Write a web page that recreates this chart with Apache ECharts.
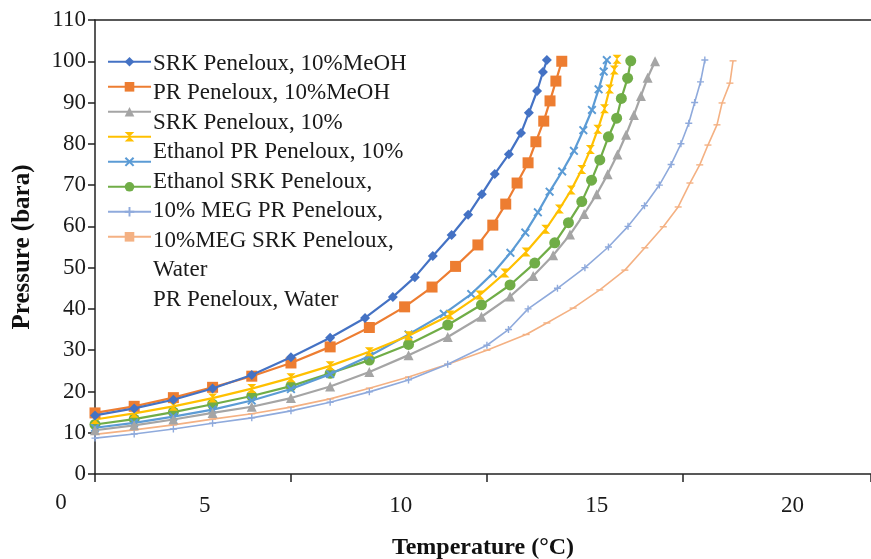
<!DOCTYPE html>
<html><head><meta charset="utf-8">
<script src="https://cdn.jsdelivr.net/npm/echarts@6/dist/echarts.min.js"></script>
<style>html,body{margin:0;padding:0;background:#fff}#c{width:871px;height:559px}</style>
</head><body><div id="c"></div>
<script>
// ---- data (temperature in deg C along the plotted axis, pressure in bara) ----
const seriesNames = ['SRK Peneloux, 10%MeOH','PR Peneloux, 10%MeOH','SRK Peneloux, 10% Ethanol','PR Peneloux, 10% Ethanol','SRK Peneloux, 10% MEG','PR Peneloux, 10% MEG','SRK Peneloux, Water','PR Peneloux, Water'];
const legendLines = ['SRK Peneloux, 10%MeOH','PR Peneloux, 10%MeOH','SRK Peneloux, 10%','Ethanol PR Peneloux, 10%','Ethanol SRK Peneloux,','10% MEG PR Peneloux,','10%MEG SRK Peneloux,','Water\nPR Peneloux, Water'];
const xTickLabels = [5,10,15,20];
const xOriginLabel = '0';

const srkMeohT = [0,1,2,3,4,5,6,6.89,7.6,8.16,8.62,9.1,9.52,9.87,10.2,10.56,10.87,11.07,11.28,11.43,11.53];
const srkMeohP = [14.2,15.9,18.0,20.7,24.0,28.3,33.0,37.8,42.9,47.7,52.8,57.9,62.8,67.8,72.7,77.5,82.6,87.5,92.8,97.4,100.3];
const prMeohT = [0,1,2,3,4,5,6,7,7.9,8.6,9.2,9.77,10.15,10.48,10.77,11.05,11.25,11.45,11.61,11.76,11.91];
const prMeohP = [14.8,16.4,18.5,21.0,23.7,26.9,30.8,35.5,40.5,45.3,50.3,55.5,60.3,65.4,70.5,75.4,80.5,85.5,90.4,95.2,100.0];
const srkEthT = [0,1,2,3,4,5,6,7,8,9,9.86,10.59,11.18,11.69,12.12,12.48,12.8,13.08,13.33,13.55,13.75,13.93,14.1,14.29];
const srkEthP = [10.6,11.8,13.2,14.8,16.3,18.4,21.2,24.7,28.8,33.2,38.1,43.0,48.0,53.0,58.0,63.0,67.8,72.6,77.4,82.2,87.0,91.6,96.0,100.0];
const prEthT = [0,1,2,3,4,5,6,7,8,9.06,9.82,10.46,11.0,11.5,11.85,12.15,12.42,12.64,12.83,13.0,13.13,13.25,13.32];
const prEthP = [13.2,14.7,16.4,18.4,20.7,23.3,26.2,29.6,33.5,38.5,43.4,48.7,53.8,59.3,64.2,68.8,73.8,78.6,83.5,88.5,93.3,97.9,100.5];
const srkMegT = [0,1,2,3,4,5,6,7,8,8.9,9.6,10.15,10.6,10.98,11.3,11.6,11.92,12.22,12.46,12.68,12.85,12.98,13.06];
const srkMegP = [11.2,12.4,13.9,15.6,17.8,20.6,24.2,28.6,33.8,38.8,43.6,48.6,53.6,58.5,63.4,68.4,73.3,78.3,83.3,88.2,93.2,97.5,100.3];
const prMegT = [0,1,2,3,4,5,6,7,8,9,9.86,10.59,11.22,11.73,12.08,12.42,12.67,12.88,13.1,13.31,13.43,13.59,13.67];
const prMegP = [12.0,13.3,15.0,16.9,18.9,21.3,24.4,27.6,31.4,36.1,41.0,45.8,51.1,56.0,60.9,66.0,71.2,76.1,81.7,86.2,91.0,95.9,100.1];
const srkWaterT = [0,1,2,3,4,5,6,7,8,9,10,10.55,11.05,11.8,12.5,13.1,13.6,14.02,14.4,14.7,14.95,15.15,15.3,15.45,15.56];
const srkWaterP = [8.7,9.7,10.9,12.3,13.6,15.3,17.4,19.9,22.8,26.6,31.2,35,40,45,50,55,60,65,70,75,80,85,90,95,100.3];
const prWaterT = [0,1,2,3,4,5,6,7,8,9,10,11,11.53,12.2,12.88,13.52,14.03,14.5,14.88,15.18,15.43,15.64,15.87,16.0,16.2,16.28];
const prWaterP = [9.6,10.7,11.9,13.3,14.6,16.2,18.2,20.8,23.5,26.6,30.0,33.8,36.6,40.2,44.6,49.4,54.8,59.9,64.7,70.5,74.9,79.7,84.6,89.9,94.7,100.1];

const seriesT = [srkMeohT, prMeohT, srkEthT, prEthT, srkMegT, prMegT, srkWaterT, prWaterT];
const seriesP = [srkMeohP, prMeohP, srkEthP, prEthP, srkMegP, prMegP, srkWaterP, prWaterP];

// ---- styles ----
const colors = ['#4472C4','#ED7D31','#A5A5A5','#FFC000','#5B9BD5','#70AD47','#8FAADC','#F4B183'];
const symbols = [
  'diamond','rect','triangle',
  'path://M0,0 L10,0 L5,5 L10,10 L0,10 L5,5 Z',
  'path://M0,1.5 L1.5,0 L5,3.5 L8.5,0 L10,1.5 L6.5,5 L10,8.5 L8.5,10 L5,6.5 L1.5,10 L0,8.5 L3.5,5 Z',
  'circle',
  'path://M4,0 H6 V4 H10 V6 H6 V10 H4 V6 H0 V4 H4 Z',
  'path://M0,4 H10 V6 H0 Z'
];
const symbolSizes = [10,11,10,9,9,11,7,7];
const lineWidths = [2.2,2.2,2.2,2.2,2.2,2.2,1.6,1.6];
const FONT = 'Liberation Serif';

const series = seriesNames.map((n,i)=>({
  name:n, type:'line', xAxisIndex:0, yAxisIndex:0,
  data: seriesT[i].map((t,k)=>[t, seriesP[i][k]]),
  symbol: symbols[i], symbolSize: symbolSizes[i], symbolKeepAspect:true, showSymbol:true,
  lineStyle:{color:colors[i], width:lineWidths[i]},
  itemStyle:{color:colors[i], borderWidth:0},
  z: 10-i, animation:false
}));

const lineMap = {};
seriesNames.forEach((n,i)=>lineMap[n]=legendLines[i]);

const chart = echarts.init(document.getElementById('c'), null, {renderer:'canvas'});
chart.setOption({
  backgroundColor:'#fff',
  animation:false,
  color: colors,
  grid:{left:95, top:20, right:0, bottom:85, show:false, containLabel:false, outerBoundsMode:'none'},
  legend:[
    {orient:'vertical', left:102, top:52, itemWidth:43, itemHeight:12, itemGap:15.4,
     data: seriesNames, formatter: ()=>'', textStyle:{fontSize:1, lineHeight:1}, selectedMode:false},
    {orient:'vertical', left:143, top:44, itemWidth:0, itemHeight:1, itemGap:0, icon:'none',
     data: seriesNames, formatter: n=>lineMap[n], selectedMode:false,
     textStyle:{fontFamily:FONT, fontSize:23, lineHeight:29.5, color:'#1a1a1a'}}
  ],
  xAxis:[
    {type:'value', min:0, max:19.8, interval:5, position:'bottom',
     axisLine:{show:true, onZero:false, lineStyle:{color:'#222', width:1.5}},
     axisTick:{show:true, length:8, lineStyle:{color:'#222', width:1.5}},
     axisLabel:{show:false}, splitLine:{show:false},
     name:'Temperature (°C)', nameLocation:'middle', nameGap:62,
     nameTextStyle:{fontFamily:FONT, fontWeight:'bold', fontSize:24, color:'#111'}},
    {type:'value', min:2.2, max:22.0, position:'bottom', gridIndex:0,
     axisLine:{show:false}, axisTick:{show:false}, splitLine:{show:false},
     axisLabel:{show:true, customValues:xTickLabels, margin:20, fontFamily:FONT, fontSize:23, color:'#1a1a1a'}},
    {type:'value', min:0, max:19.8, position:'top', gridIndex:0,
     axisLine:{show:true, onZero:false, lineStyle:{color:'#222', width:1.5}},
     axisTick:{show:false}, axisLabel:{show:false}, splitLine:{show:false}}
  ],
  yAxis:[{type:'value', min:0, max:110, interval:10,
     axisLine:{show:true, onZero:false, lineStyle:{color:'#222', width:1.5}},
     axisTick:{show:true, length:7, lineStyle:{color:'#222', width:1.5}},
     axisLabel:{margin:9, fontFamily:FONT, fontSize:23, color:'#1a1a1a'},
     splitLine:{show:false},
     name:'Pressure (bara)', nameLocation:'middle', nameGap:60,
     nameTextStyle:{fontFamily:FONT, fontWeight:'bold', fontSize:25, color:'#111'}}],
  graphic:[{type:'text', x:61, y:503, style:{text:xOriginLabel, fontFamily:FONT, fontSize:23, fill:'#1a1a1a', textAlign:'center', textVerticalAlign:'middle'}}],
  series: series
});
</script></body></html>
